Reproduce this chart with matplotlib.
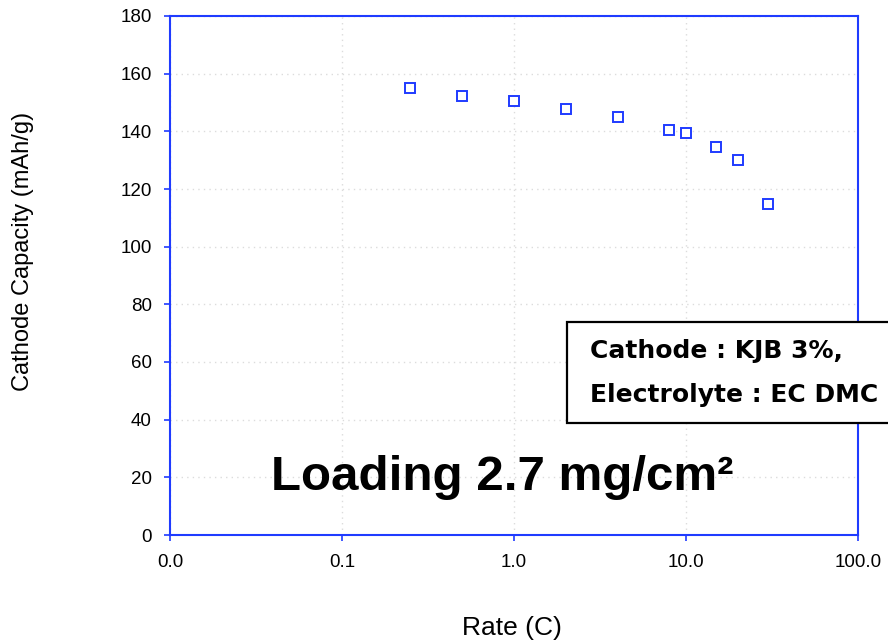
import numpy as np
import matplotlib.pyplot as plt
from matplotlib.patches import Rectangle
from matplotlib.ticker import FixedLocator, FuncFormatter, NullLocator

# rate (C) vs cathode capacity (mAh/g)
rate = [0.25, 0.5, 1.0, 2.0, 4.0, 8.0, 10.0, 15.0, 20.0, 30.0]
capacity = [155.0, 152.4, 150.4, 147.8, 145.1, 140.6, 139.3, 134.7, 130.1, 114.9]

x_ticks = [0.01, 0.1, 1, 10, 100]
y_ticks = list(range(0, 181, 20))

blue = '#1f3bff'
W, H = 888, 644

fig = plt.figure(figsize=(W/100, H/100), dpi=100)
ax = fig.add_axes([170/W, 1 - 535/H, (858-170)/W, (535-16)/H])

ax.plot(rate, capacity, linestyle='none', marker='s', markersize=7.4,
        markerfacecolor='white', markeredgecolor=blue, markeredgewidth=1.4)

ax.set_xscale('log')
ax.set_xlim(0.01, 100)
ax.set_ylim(0, 180)
ax.xaxis.set_major_locator(FixedLocator(x_ticks))
ax.xaxis.set_minor_locator(NullLocator())
ax.xaxis.set_major_formatter(FuncFormatter(lambda v, p: f"{v:.1f}"))
ax.set_yticks(y_ticks)

for s in ax.spines.values():
    s.set_color(blue)
    s.set_linewidth(1.5)

ax.tick_params(axis='both', direction='out', length=4, width=1.2, color=blue,
               labelsize=13.5, labelcolor='black')
ax.tick_params(axis='x', pad=10)
ax.tick_params(axis='y', pad=9)
for lab in ax.get_xticklabels() + ax.get_yticklabels():
    lab.set_family('Liberation Sans')

ax.grid(True, which='major', color='#dcdcdc', linestyle=(0, (1, 3)), linewidth=1)
ax.set_axisbelow(True)

fig.text(512/W, 1 - 628/H, 'Rate (C)', ha='center', va='center',
         fontsize=19, family='Liberation Sans')
fig.text(23/W, 1 - 251/H, 'Cathode Capacity (mAh/g)', ha='center', va='center',
         rotation=90, fontsize=17, family='Liberation Sans')

# info box, runs off the right edge as in the original
fig.patches.append(Rectangle((567/W, 1 - 423/H), 400/W, 101/H, transform=fig.transFigure,
                             facecolor='white', edgecolor='black', linewidth=1.6))
fig.text(590/W, 1 - 358/H, 'Cathode : KJB 3%,', fontsize=18,
         fontweight='bold', family='DejaVu Sans')
fig.text(590/W, 1 - 402/H, 'Electrolyte : EC DMC', fontsize=18,
         fontweight='bold', family='DejaVu Sans')

fig.text(502/W, 1 - 490/H, 'Loading 2.7 mg/cm\u00b2', ha='center',
         va='baseline', fontsize=35.5, fontweight='bold', family='Liberation Sans')

fig.savefig('out.png', dpi=100)
